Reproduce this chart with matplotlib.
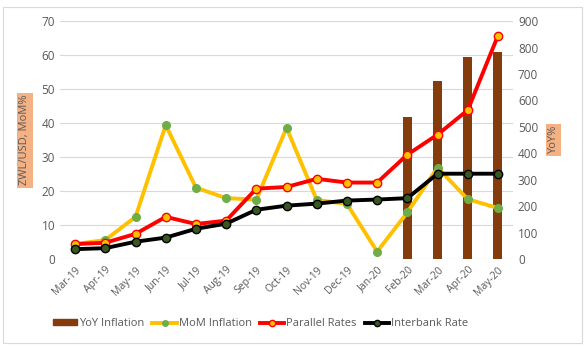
import numpy as np
import matplotlib.pyplot as plt
from matplotlib.patches import Patch, Rectangle
from matplotlib.lines import Line2D

plt.rcParams['font.family'] = ['Open Sans', 'DejaVu Sans']

months = ['Mar-19', 'Apr-19', 'May-19', 'Jun-19', 'Jul-19', 'Aug-19', 'Sep-19', 'Oct-19',
          'Nov-19', 'Dec-19', 'Jan-20', 'Feb-20', 'Mar-20', 'Apr-20', 'May-20']
yoy_inflation = [np.nan] * 11 + [536, 673, 764, 783]
mom_inflation = [4.4, 5.6, 12.4, 39.4, 21.0, 17.9, 17.5, 38.6, 17.4, 16.2, 2.2, 13.7, 26.9, 17.6, 15.0]
parallel_rates = [4.4, 4.8, 7.4, 12.4, 10.3, 11.3, 20.7, 21.2, 23.6, 22.5, 22.5, 30.7, 36.6, 43.8, 65.7]
interbank_rate = [2.9, 3.2, 5.1, 6.3, 8.9, 10.4, 14.5, 15.7, 16.3, 17.2, 17.5, 17.9, 25.1, 25.1, 25.1]

brown = '#843C0C'
yellow = '#FFC000'
green = '#70AD47'
red = '#FF0000'
dkgreen = '#385723'
gray = '#595959'

fig = plt.figure(figsize=(5.85, 3.51), dpi=100)
ax1 = fig.add_axes([0.1026, 0.262, 0.7744, 0.678])
x = np.arange(len(months))

# left axis: ticks + grid only
ax1.set_ylim(0, 70)
ax1.set_yticks(range(0, 71, 10))
ax1.grid(axis='y', color='#D9D9D9', lw=0.8)
ax1.set_axisbelow(True)

# right axis: bars
ax2 = ax1.twinx()
ax2.bar(x, yoy_inflation, width=0.3, color=brown)
ax2.set_ylim(0, 900)
ax2.set_yticks(range(0, 901, 100))

# lines on a third axis sharing the left scale
ax3 = ax1.twinx()
ax3.set_ylim(0, 70)
ax3.set_yticks([])
ax3.plot(x, mom_inflation, color=yellow, lw=2.8, marker='o', ms=5.5, mfc=green, mec=green)
ax3.plot(x, parallel_rates, color=red, lw=2.8, marker='o', ms=6, mfc=yellow, mec=red, mew=1)
ax3.plot(x, interbank_rate, color='black', lw=2.8, marker='o', ms=6, mfc=dkgreen, mec='black', mew=1)

ax1.set_xlim(-0.5, len(months) - 0.5)
ax1.set_xticks(x)
ax1.set_xticklabels(months, rotation=45, ha='right', rotation_mode='anchor', fontsize=7.5, color=gray)
for a in (ax1, ax2, ax3):
    for s in a.spines.values():
        s.set_visible(False)
    a.tick_params(length=0, colors=gray, labelsize=8.5)
ax1.tick_params(axis='x', labelsize=7.5, pad=4)
ax1.axhline(0, color='#D9D9D9', lw=0.8)

ax1.set_ylabel('ZWL/USD, MoM%', fontsize=8, color=gray, labelpad=8,
               bbox=dict(boxstyle='square,pad=0.2', fc='#F4B183', ec='none'))
ax2.set_ylabel('YoY%', fontsize=8, color=gray, labelpad=7,
               bbox=dict(boxstyle='square,pad=0.2', fc='#F4B183', ec='none'))

handles = [
    Patch(color=brown),
    Line2D([], [], color=yellow, lw=2.8, marker='o', ms=4, mfc=green, mec=green),
    Line2D([], [], color=red, lw=2.8, marker='o', ms=4.5, mfc=yellow, mec=red),
    Line2D([], [], color='black', lw=2.8, marker='o', ms=4.5, mfc=dkgreen, mec='black'),
]
labels = ['YoY Inflation', 'MoM Inflation', 'Parallel Rates', 'Interbank Rate']
leg = fig.legend(handles, labels, loc='center', bbox_to_anchor=(0.445, 0.078), ncol=4,
                 frameon=False, fontsize=8, handlelength=2.2, handleheight=0.5,
                 handletextpad=0.15, columnspacing=0.75)
for t in leg.get_texts():
    t.set_color(gray)

fig.patches.append(Rectangle((0.005, 0.022), 0.99, 0.958, transform=fig.transFigure,
                             fill=False, ec='#D9D9D9', lw=0.8))

fig.savefig('out.png', dpi=100)
